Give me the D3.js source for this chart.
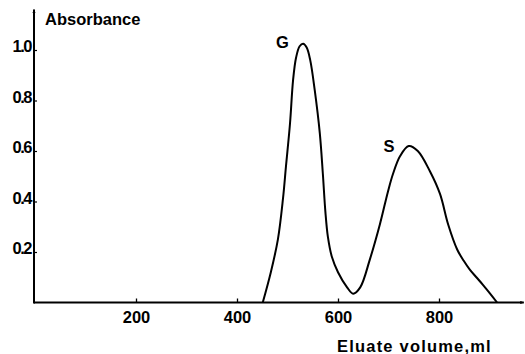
<!DOCTYPE html>
<html>
<head>
<meta charset="utf-8">
<script src="https://cdn.jsdelivr.net/npm/d3@7/dist/d3.min.js"></script>
<style>
  html, body { margin: 0; padding: 0; background: #fff; }
  svg text { font-family: "Liberation Sans", Arial, sans-serif; font-weight: bold; fill: #000; }
</style>
</head>
<body>
<svg id="chart" width="525" height="354"></svg>
<script>
// ---- data ----
const volume = [451, 467, 481, 491, 497, 505, 511, 517, 524, 531, 538, 545, 554, 564, 570, 575, 580, 588, 600, 618, 630, 644, 663, 683, 699, 709, 723, 740, 758, 782, 802, 818, 836, 849, 861, 874, 887, 900, 915];
const absorbance = [0, 0.12, 0.25, 0.41, 0.54, 0.71, 0.88, 0.97, 1.015, 1.025, 1.01, 0.96, 0.84, 0.67, 0.51, 0.36, 0.26, 0.18, 0.12, 0.06, 0.035, 0.06, 0.17, 0.31, 0.44, 0.51, 0.58, 0.62, 0.60, 0.52, 0.43, 0.31, 0.21, 0.165, 0.13, 0.10, 0.07, 0.038, 0];
const xTicks = [200, 400, 600, 800];
const yTicks = [0.2, 0.4, 0.6, 0.8, 1.0];
const yTickLabels = ["0.2", "0.4", "0.6", "0.8", "1.0"];
const peakLabels = ["G", "S"];
const peakVolume = [490, 701];
const peakAbs = [1.03, 0.62];
const xTitle = "Eluate volume,ml";
const yTitle = "Absorbance";

const svg = d3.select("#chart");
const x = d3.scaleLinear().domain([0, 800]).range([35, 439]);
const y = d3.scaleLinear().domain([0, 1]).range([302.5, 50]);
const FS = "16.5px";
const FF = "'Liberation Sans', Arial, sans-serif";

// arrow marker
const defs = svg.append("defs");
defs.append("marker").attr("id", "arr").attr("viewBox", "0 0 10 10")
  .attr("refX", 9).attr("refY", 5).attr("markerWidth", 4).attr("markerHeight", 4)
  .attr("orient", "auto-start-reverse").attr("markerUnits", "userSpaceOnUse")
  .append("path").attr("d", "M0,1 L10,5 L0,9 Z").attr("fill", "#000");

// axis lines
svg.append("line").attr("x1", x(0) - 1).attr("x2", x(968)).attr("y1", y(0)).attr("y2", y(0))
  .attr("stroke", "#000").attr("stroke-width", 2).attr("marker-end", "url(#arr)");
svg.append("line").attr("x1", x(0) - 1).attr("x2", x(0) - 1).attr("y1", y(0) + 1).attr("y2", y(1.16))
  .attr("stroke", "#000").attr("stroke-width", 2).attr("marker-end", "url(#arr)");

// x axis ticks
const xAxis = d3.axisBottom(x).tickValues(xTicks).tickSizeInner(-4).tickSizeOuter(0).tickPadding(0);
const gx = svg.append("g").attr("transform", `translate(0,${y(0)})`).call(xAxis);
gx.select(".domain").remove();
gx.selectAll(".tick line").attr("stroke", "#000").attr("stroke-width", 1.3);
gx.selectAll(".tick text").attr("y", 20).attr("dy", null)
  .style("font-size", FS).style("font-family", FF).style("font-weight", "bold");

// y axis ticks
const yAxis = d3.axisLeft(y).tickValues(yTicks).tickFormat((d, i) => yTickLabels[i])
  .tickSizeInner(-3).tickSizeOuter(0).tickPadding(0);
const gy = svg.append("g").attr("transform", `translate(${x(0) - 1},0)`).call(yAxis);
gy.select(".domain").remove();
gy.selectAll(".tick line").attr("stroke", "#000").attr("stroke-width", 1.2);
gy.selectAll(".tick text").attr("x", -3).attr("dy", "0.1em").attr("text-anchor", "end")
  .style("font-size", FS).style("font-family", FF).style("font-weight", "bold")
  .style("letter-spacing", "-1.5px");

// curve
const pts = volume.map((v, i) => [v, absorbance[i]]);
const line = d3.line().x(d => x(d[0])).y(d => y(d[1])).curve(d3.curveCatmullRom.alpha(0.5));
svg.append("path").attr("d", line(pts)).attr("fill", "none").attr("stroke", "#000").attr("stroke-width", 2);

// peak labels
svg.selectAll(".pk").data(peakLabels).enter().append("text").attr("class", "pk")
  .attr("x", (d, i) => x(peakVolume[i])).attr("y", (d, i) => y(peakAbs[i]) + 6)
  .attr("text-anchor", "middle").style("font-size", FS).text(d => d);

// titles
svg.append("text").attr("x", 45).attr("y", 25).style("font-size", FS).text(yTitle);
svg.append("text").attr("x", 337).attr("y", 352).style("font-size", FS).style("letter-spacing", "1.2px").text(xTitle);
</script>
</body>
</html>
